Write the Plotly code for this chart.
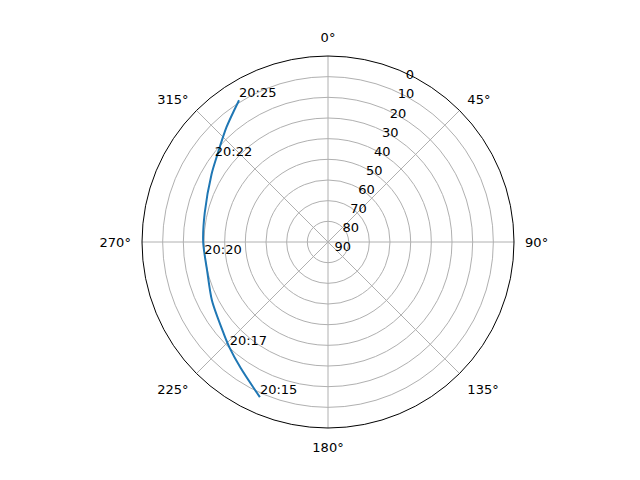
from __future__ import annotations

import plotly.graph_objects as go

# satellite pass, azimuth (deg, clockwise from north) and elevation (deg)
pass_az = [203.7, 214.7, 222.9, 228.4, 243.2, 256.8, 270.0, 283.4, 300.2, 308.5, 318.6, 327.9]
pass_el = [8.0, 15.8, 20.1, 22.7, 27.1, 29.9, 29.6, 28.7, 24.8, 21.7, 15.8, 9.0]

label_text = ["20:15", "20:17", "20:20", "20:22", "20:25"]
label_az = [203.7, 222.9, 263.0, 306.2, 327.9]
label_el = [8.0, 20.1, 29.7, 22.1, 9.0]

elev_ticks = [0, 10, 20, 30, 40, 50, 60, 70, 80, 90]
az_ticks = [0, 45, 90, 135, 180, 225, 270, 315]

fig = go.Figure()
fig.add_trace(
    go.Scatterpolar(
        theta=pass_az,
        r=pass_el,
        mode="lines",
        line={"color": "#1f77b4", "width": 2, "shape": "spline", "smoothing": 0.8},
        showlegend=False,
        hoverinfo="skip",
    )
)
fig.add_trace(
    go.Scatterpolar(
        theta=label_az,
        r=label_el,
        mode="text",
        text=label_text,
        textposition="top right",
        textfont={"color": "black", "size": 13},
        showlegend=False,
        hoverinfo="skip",
    )
)

fig.update_layout(
    width=640,
    height=480,
    margin={"l": 0, "r": 0, "t": 0, "b": 0},
    paper_bgcolor="white",
    font={"family": "DejaVu Sans", "size": 13, "color": "black"},
    polar=dict(
        domain={"x": [0.209375, 0.790625], "y": [0.125, 0.9]},
        bgcolor="white",
        angularaxis=dict(
            rotation=90,
            direction="clockwise",
            tickvals=az_ticks,
            ticktext=[f"{a}°" for a in az_ticks],
            # invisible ticks just push the labels out like matplotlib's padding
            ticks="outside",
            ticklen=8,
            tickcolor="rgba(0,0,0,0)",
            showline=True,
            linecolor="black",
            linewidth=1,
            gridcolor="#b0b0b0",
            gridwidth=1,
        ),
        radialaxis=dict(
            range=[90, 0],
            tickvals=elev_ticks,
            ticks="",
            showline=False,
            gridcolor="#b0b0b0",
            gridwidth=1,
            angle=67.5,
            tickangle=67.5,
        ),
    ),
)

fig.write_html("out.html")
